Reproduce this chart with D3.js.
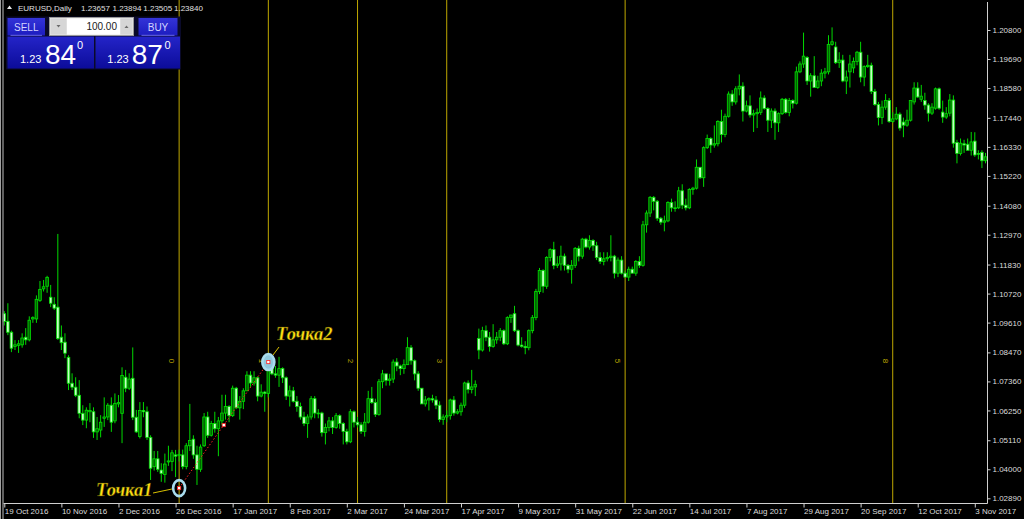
<!DOCTYPE html>
<html><head><meta charset="utf-8">
<script src="https://cdn.jsdelivr.net/npm/d3@7"></script>
<style>html,body{margin:0;padding:0;background:#000;overflow:hidden}svg{display:block}</style>
</head><body>
<svg id="c" width="1024" height="519"></svg>
<script>
// ---- data ----
const dateLabels = ["19 Oct 2016","10 Nov 2016","2 Dec 2016","26 Dec 2016","17 Jan 2017","8 Feb 2017","2 Mar 2017","24 Mar 2017","17 Apr 2017","9 May 2017","31 May 2017","22 Jun 2017","14 Jul 2017","7 Aug 2017","29 Aug 2017","20 Sep 2017","12 Oct 2017","3 Nov 2017"];
const dateLabelBars = [0,16,32,48,64,80,96,112,128,144,160,176,192,208,224,240,256,272];
const priceTicks = [1.20800,1.19690,1.18580,1.17440,1.16330,1.15220,1.14080,1.12970,1.11830,1.10720,1.09610,1.08470,1.07360,1.06250,1.05110,1.04000,1.02890];

const opens = [
1.0995,1.0966,1.0924,1.0870,1.0874,1.0876,1.0905,1.0895,1.0975,1.0975,
1.1046,1.1090,1.1100,1.1058,1.1031,1.1020,1.0905,1.0886,1.0828,1.0729,
1.0714,1.0683,1.0614,1.0588,1.0620,1.0620,1.0543,1.0550,1.0595,1.0600,
1.0645,1.0585,1.0650,1.0614,1.0752,1.0710,1.0748,1.0599,1.0525,1.0625,
1.0620,1.0522,1.0410,1.0440,1.0397,1.0380,1.0428,1.0430,1.0455,1.0455,
1.0455,1.0410,1.0490,1.0515,1.0455,1.0400,1.0490,1.0600,1.0530,1.0575,
1.0555,1.0585,1.0615,1.0640,1.0605,1.0710,1.0635,1.0660,1.0700,1.0760,
1.0730,1.0750,1.0680,1.0695,1.0690,1.0800,1.0765,1.0760,1.0785,1.0750,
1.0680,1.0700,1.0660,1.0640,1.0600,1.0575,1.0600,1.0670,1.0615,1.0615,
1.0540,1.0560,1.0585,1.0560,1.0605,1.0575,1.0545,1.0505,1.0620,1.0580,
1.0570,1.0545,1.0580,1.0670,1.0655,1.0610,1.0735,1.0765,1.0740,1.0745,
1.0810,1.0795,1.0785,1.0800,1.0865,1.0815,1.0765,1.0710,1.0650,1.0665,
1.0670,1.0665,1.0645,1.0590,1.0600,1.0605,1.0665,1.0615,1.0620,1.0645,
1.0730,1.0705,1.0715,1.0900,1.0856,1.0930,1.0905,1.0870,1.0895,1.0905,
1.0930,1.0880,1.0980,1.0995,1.0930,1.0875,1.0870,1.0865,1.0930,1.0980,
1.1080,1.1160,1.1100,1.1210,1.1240,1.1180,1.1185,1.1215,1.1180,1.1165,
1.1180,1.1245,1.1215,1.1280,1.1250,1.1275,1.1255,1.1210,1.1195,1.1205,
1.1210,1.1215,1.1150,1.1200,1.1150,1.1135,1.1165,1.1150,1.1195,1.1180,
1.1335,1.1380,1.1440,1.1425,1.1360,1.1345,1.1350,1.1420,1.1400,1.1400,
1.1465,1.1410,1.1400,1.1470,1.1475,1.1555,1.1515,1.1630,1.1665,1.1640,
1.1645,1.1730,1.1680,1.1750,1.1835,1.1805,1.1855,1.1865,1.1770,1.1790,
1.1755,1.1760,1.1765,1.1820,1.1780,1.1735,1.1770,1.1725,1.1760,1.1815,
1.1765,1.1810,1.1800,1.1920,1.1950,1.1975,1.1885,1.1905,1.1860,1.1885,
1.1915,1.1920,1.2025,1.2015,1.1955,1.1965,1.1885,1.1920,1.1935,1.1960,
1.1995,1.1900,1.1940,1.1945,1.1845,1.1795,1.1745,1.1785,1.1810,1.1730,
1.1740,1.1758,1.1728,1.1716,1.1735,1.1805,1.1858,1.1815,1.1810,1.1793,
1.1762,1.1781,1.1855,1.1766,1.1747,1.1762,1.1812,1.1650,1.1608,1.1645,
1.1643,1.1620,1.1655,1.1608,1.1612,1.1580];

const highs = [
1.1005,1.1035,1.0930,1.0894,1.0894,1.0920,1.0940,1.0985,1.0985,1.1065,
1.1120,1.1124,1.1140,1.1105,1.1058,1.1300,1.0950,1.0920,1.0836,1.0767,
1.0752,1.0741,1.0645,1.0637,1.0653,1.0637,1.0600,1.0607,1.0675,1.0653,
1.0675,1.0690,1.0684,1.0790,1.0780,1.0767,1.0866,1.0627,1.0657,1.0657,
1.0640,1.0530,1.0470,1.0470,1.0423,1.0460,1.0490,1.0474,1.0474,1.0475,
1.0475,1.0500,1.0650,1.0530,1.0490,1.0495,1.0615,1.0620,1.0585,1.0620,
1.0600,1.0685,1.0685,1.0645,1.0720,1.0715,1.0680,1.0710,1.0775,1.0775,
1.0775,1.0755,1.0725,1.0700,1.0810,1.0830,1.0795,1.0830,1.0790,1.0755,
1.0720,1.0715,1.0680,1.0655,1.0620,1.0610,1.0680,1.0680,1.0630,1.0620,
1.0575,1.0600,1.0600,1.0615,1.0610,1.0580,1.0555,1.0630,1.0625,1.0600,
1.0580,1.0615,1.0700,1.0715,1.0670,1.0745,1.0780,1.0765,1.0765,1.0820,
1.0825,1.0800,1.0820,1.0905,1.0875,1.0820,1.0775,1.0710,1.0680,1.0675,
1.0685,1.0680,1.0660,1.0610,1.0625,1.0670,1.0680,1.0630,1.0655,1.0735,
1.0740,1.0780,1.0740,1.0938,1.0945,1.0950,1.0925,1.0955,1.0925,1.0940,
1.0935,1.0985,1.0990,1.1025,1.0935,1.0905,1.0890,1.0935,1.0990,1.1090,
1.1170,1.1165,1.1215,1.1245,1.1270,1.1215,1.1255,1.1225,1.1185,1.1200,
1.1250,1.1255,1.1285,1.1285,1.1295,1.1280,1.1270,1.1230,1.1230,1.1230,
1.1295,1.1220,1.1210,1.1215,1.1160,1.1175,1.1175,1.1200,1.1215,1.1350,
1.1390,1.1445,1.1445,1.1430,1.1365,1.1370,1.1425,1.1435,1.1425,1.1480,
1.1490,1.1435,1.1475,1.1480,1.1585,1.1555,1.1635,1.1680,1.1670,1.1715,
1.1735,1.1775,1.1760,1.1845,1.1850,1.1865,1.1910,1.1880,1.1810,1.1830,
1.1775,1.1780,1.1845,1.1830,1.1785,1.1780,1.1780,1.1765,1.1820,1.1820,
1.1820,1.1815,1.1940,1.1960,1.2070,1.1980,1.1915,1.1980,1.1905,1.1930,
1.1935,1.2060,1.2090,1.2035,1.1995,1.1985,1.1925,1.1985,1.1975,1.2000,
1.2035,1.1945,1.1985,1.1955,1.1855,1.1805,1.1810,1.1835,1.1820,1.1765,
1.1785,1.1765,1.1745,1.1775,1.1810,1.1880,1.1880,1.1870,1.1840,1.1800,
1.1800,1.1860,1.1860,1.1810,1.1785,1.1835,1.1830,1.1660,1.1665,1.1660,
1.1665,1.1690,1.1689,1.1620,1.1620,1.1610];

const lows = [
1.0950,1.0913,1.0848,1.0856,1.0845,1.0865,1.0876,1.0889,1.0960,1.0960,
1.1040,1.1080,1.1075,1.1020,1.1009,1.0895,1.0856,1.0825,1.0703,1.0703,
1.0676,1.0595,1.0569,1.0557,1.0580,1.0520,1.0512,1.0522,1.0562,1.0588,
1.0543,1.0576,1.0637,1.0500,1.0695,1.0703,1.0588,1.0539,1.0518,1.0599,
1.0512,1.0359,1.0395,1.0390,1.0352,1.0349,1.0413,1.0393,1.0370,1.0430,
1.0400,1.0400,1.0470,1.0440,1.0340,1.0390,1.0485,1.0520,1.0525,1.0540,
1.0450,1.0570,1.0590,1.0580,1.0600,1.0630,1.0590,1.0630,1.0700,1.0715,
1.0720,1.0660,1.0675,1.0620,1.0675,1.0760,1.0750,1.0715,1.0730,1.0665,
1.0640,1.0655,1.0620,1.0590,1.0565,1.0520,1.0590,1.0595,1.0595,1.0525,
1.0495,1.0545,1.0535,1.0555,1.0555,1.0495,1.0495,1.0500,1.0560,1.0560,
1.0535,1.0525,1.0575,1.0650,1.0600,1.0605,1.0710,1.0720,1.0720,1.0730,
1.0775,1.0760,1.0765,1.0800,1.0800,1.0740,1.0700,1.0650,1.0640,1.0625,
1.0655,1.0630,1.0580,1.0570,1.0580,1.0590,1.0605,1.0610,1.0605,1.0635,
1.0690,1.0690,1.0680,1.0821,1.0850,1.0890,1.0850,1.0865,1.0880,1.0890,
1.0875,1.0875,1.0960,1.0925,1.0870,1.0865,1.0840,1.0855,1.0920,1.0970,
1.1070,1.1075,1.1090,1.1195,1.1165,1.1170,1.1160,1.1160,1.1150,1.1110,
1.1170,1.1195,1.1205,1.1245,1.1240,1.1235,1.1200,1.1185,1.1180,1.1195,
1.1195,1.1130,1.1135,1.1145,1.1135,1.1120,1.1150,1.1140,1.1170,1.1175,
1.1305,1.1365,1.1390,1.1350,1.1335,1.1310,1.1345,1.1385,1.1385,1.1395,
1.1395,1.1390,1.1395,1.1450,1.1470,1.1510,1.1480,1.1625,1.1610,1.1630,
1.1635,1.1650,1.1670,1.1745,1.1790,1.1795,1.1830,1.1730,1.1765,1.1745,
1.1690,1.1705,1.1755,1.1775,1.1690,1.1705,1.1660,1.1690,1.1755,1.1760,
1.1750,1.1780,1.1795,1.1915,1.1935,1.1870,1.1825,1.1860,1.1855,1.1865,
1.1895,1.1910,1.2020,1.1950,1.1935,1.1880,1.1835,1.1860,1.1915,1.1945,
1.1880,1.1865,1.1935,1.1835,1.1790,1.1715,1.1720,1.1775,1.1725,1.1725,
1.1735,1.1695,1.1670,1.1710,1.1730,1.1795,1.1820,1.1805,1.1775,1.1730,
1.1755,1.1775,1.1775,1.1725,1.1740,1.1750,1.1630,1.1570,1.1600,1.1610,
1.1620,1.1600,1.1595,1.1585,1.1552,1.1570];

const closes = [
1.0965,1.0924,1.0863,1.0876,1.0880,1.0902,1.0895,1.0970,1.0980,1.1050,
1.1088,1.1098,1.1134,1.1035,1.1016,1.0900,1.0884,1.0844,1.0729,1.0714,
1.0683,1.0614,1.0588,1.0626,1.0625,1.0543,1.0555,1.0580,1.0600,1.0645,
1.0580,1.0652,1.0655,1.0759,1.0710,1.0745,1.0599,1.0543,1.0625,1.0620,
1.0522,1.0404,1.0440,1.0400,1.0384,1.0420,1.0432,1.0463,1.0450,1.0456,
1.0410,1.0490,1.0510,1.0455,1.0400,1.0485,1.0600,1.0530,1.0575,1.0555,
1.0585,1.0615,1.0640,1.0605,1.0710,1.0635,1.0660,1.0700,1.0760,1.0730,
1.0750,1.0680,1.0695,1.0690,1.0800,1.0765,1.0760,1.0785,1.0750,1.0680,
1.0700,1.0660,1.0640,1.0600,1.0575,1.0600,1.0670,1.0615,1.0615,1.0540,
1.0560,1.0585,1.0560,1.0605,1.0575,1.0545,1.0505,1.0620,1.0580,1.0570,
1.0545,1.0580,1.0670,1.0655,1.0610,1.0735,1.0765,1.0740,1.0745,1.0810,
1.0795,1.0785,1.0800,1.0865,1.0815,1.0765,1.0710,1.0650,1.0665,1.0670,
1.0665,1.0645,1.0590,1.0600,1.0605,1.0665,1.0615,1.0620,1.0645,1.0730,
1.0705,1.0715,1.0725,1.0856,1.0930,1.0905,1.0870,1.0895,1.0905,1.0930,
1.0880,1.0980,1.0990,1.0930,1.0875,1.0870,1.0865,1.0930,1.0980,1.1080,
1.1160,1.1100,1.1210,1.1240,1.1180,1.1185,1.1215,1.1180,1.1165,1.1180,
1.1245,1.1215,1.1280,1.1250,1.1275,1.1255,1.1210,1.1195,1.1205,1.1210,
1.1215,1.1150,1.1200,1.1150,1.1135,1.1165,1.1150,1.1195,1.1180,1.1335,
1.1380,1.1440,1.1425,1.1360,1.1345,1.1350,1.1420,1.1400,1.1400,1.1465,
1.1410,1.1400,1.1470,1.1475,1.1555,1.1515,1.1630,1.1665,1.1640,1.1645,
1.1730,1.1680,1.1750,1.1835,1.1805,1.1855,1.1865,1.1770,1.1790,1.1755,
1.1760,1.1765,1.1820,1.1780,1.1735,1.1770,1.1725,1.1760,1.1815,1.1765,
1.1810,1.1800,1.1920,1.1950,1.1980,1.1885,1.1905,1.1860,1.1885,1.1915,
1.1920,1.2025,1.2035,1.1955,1.1965,1.1885,1.1900,1.1950,1.1960,1.1995,
1.1900,1.1940,1.1945,1.1845,1.1795,1.1745,1.1785,1.1810,1.1730,1.1740,
1.1758,1.1705,1.1716,1.1735,1.1810,1.1858,1.1824,1.1827,1.1793,1.1762,
1.1785,1.1855,1.1781,1.1747,1.1760,1.1812,1.1647,1.1608,1.1647,1.1640,
1.1620,1.1652,1.1602,1.1605,1.1580,1.1595];

// Fibonacci time zones (anchored on Точка1 -> Точка2)
const fibLabels = ["0","1","2","3","5","8"];
const fibBars = [49,74,99,124,174,249];
const anchorBars = [49,74];
const anchorPrices = [1.0328,1.0810];
const anchorNames = ["Точка1","Точка2"];
const headerQuote = ["1.23657","1.23894","1.23505","1.23840"];

// ---- drawing ----
const svg = d3.select('#c');
const FONT = "'Liberation Sans', Arial, sans-serif";
svg.append('rect').attr('width',1024).attr('height',519).attr('fill','#000');

const x = d3.scaleLinear().domain([0, 275]).range([4.3, 985.5]);
const y = d3.scaleLinear().domain([1.0289, 1.2080]).range([498.3, 30]);

const FIB = '#bfa800';
// fib vertical lines
svg.append('g').selectAll('line').data(fibBars).join('line')
  .attr('x1', d => x(d)).attr('x2', d => x(d)).attr('y1', 0).attr('y2', 503)
  .attr('stroke', FIB).attr('stroke-width', 1);

// candles
const idx = d3.range(opens.length);
const cg = svg.append('g');
cg.selectAll('line.w').data(idx).join('line').attr('class','w')
  .attr('x1', i => x(i)).attr('x2', i => x(i))
  .attr('y1', i => y(highs[i])).attr('y2', i => y(lows[i]))
  .attr('stroke', '#00d800').attr('stroke-width', 1);
cg.selectAll('rect.b').data(idx).join('rect').attr('class','b')
  .attr('x', i => x(i) - 1.3).attr('width', 2.6)
  .attr('y', i => y(Math.max(opens[i], closes[i])))
  .attr('height', i => Math.max(0.8, Math.abs(y(opens[i]) - y(closes[i]))))
  .attr('fill', i => closes[i] >= opens[i] ? '#006400' : '#c4ffc4')
  .attr('stroke', '#00e000').attr('stroke-width', 0.8);

// fib labels (rotated)
svg.append('g').selectAll('text').data(fibBars).join('text')
  .attr('transform', d => `translate(${x(d) - 7},361) rotate(90)`)
  .attr('text-anchor', 'middle').attr('dy', '0.35em')
  .attr('font-family', FONT).attr('font-size', 8).attr('fill', FIB)
  .text((d, i) => fibLabels[i]);

// red dotted base line between anchors
svg.append('line')
  .attr('x1', x(anchorBars[0])).attr('y1', y(anchorPrices[0]))
  .attr('x2', x(anchorBars[1])).attr('y2', y(anchorPrices[1]))
  .attr('stroke', '#ff2020').attr('stroke-width', 1).attr('stroke-dasharray', '1.5,2');

// ellipses
svg.append('g').selectAll('ellipse').data(anchorBars).join('ellipse')
  .attr('cx', d => x(d)).attr('cy', (d, i) => y(anchorPrices[i]))
  .attr('rx', 6).attr('ry', 8)
  .attr('fill', (d, i) => i === 1 ? '#8fc8dc' : 'none')
  .attr('stroke', '#a8dcee').attr('stroke-width', 2.6);

// selection handles
const hx = [x(anchorBars[0]), (x(anchorBars[0]) + x(anchorBars[1])) / 2, x(anchorBars[1])];
const hy = [y(anchorPrices[0]), (y(anchorPrices[0]) + y(anchorPrices[1])) / 2, y(anchorPrices[1])];
svg.append('g').selectAll('rect').data(hx).join('rect')
  .attr('x', (d) => d - 1.6).attr('y', (d, i) => hy[i] - 1.6).attr('width', 3.2).attr('height', 3.2)
  .attr('fill', '#fff').attr('stroke', '#ff2020').attr('stroke-width', 0.8);

// labels Точка1 / Точка2
const labelPos = [[96, 496], [276, 340]];
const linkPos = [[153, 493, 172, 489], [279, 347, 273, 355]];
linkPos.forEach(l => svg.append('line').attr('x1', l[0]).attr('y1', l[1]).attr('x2', l[2]).attr('y2', l[3])
  .attr('stroke', '#d8c000').attr('stroke-width', 1));
anchorNames.forEach((t, i) => svg.append('text').attr('x', labelPos[i][0]).attr('y', labelPos[i][1])
  .attr('font-family', "'Liberation Serif', 'DejaVu Serif', serif").attr('font-style', 'italic').attr('font-weight', 'bold')
  .attr('font-size', 18.5).attr('fill', '#ffe014').attr('stroke', '#3a3000').attr('stroke-width', 0.4)
  .text(t));

// frame
svg.append('line').attr('x1', 987.5).attr('x2', 987.5).attr('y1', 2).attr('y2', 503.5).attr('stroke', '#d0d0d0');
svg.append('line').attr('x1', 3).attr('x2', 987.5).attr('y1', 503.5).attr('y2', 503.5).attr('stroke', '#d0d0d0');
svg.append('line').attr('x1', 0.5).attr('x2', 0.5).attr('y1', 0).attr('y2', 519).attr('stroke', '#a0a0a0');
svg.append('line').attr('x1', 3).attr('x2', 3).attr('y1', 0).attr('y2', 519).attr('stroke', '#808080').attr('stroke-width', 1.5);

// price axis
const ya = svg.append('g').attr('transform', 'translate(987.5,0)')
  .call(d3.axisRight(y).tickValues(priceTicks).tickSize(3).tickFormat(d => d.toFixed(5)));
ya.select('.domain').remove();
ya.selectAll('line').attr('stroke', '#d0d0d0');
ya.selectAll('text').attr('fill', '#dcdcdc').attr('font-family', FONT).attr('font-size', 8).attr('x', 5);

// time axis
const xa = svg.append('g').attr('transform', 'translate(0,503.5)')
  .call(d3.axisBottom(x).tickValues(dateLabelBars).tickSize(4).tickFormat((d, i) => dateLabels[i]));
xa.select('.domain').remove();
xa.selectAll('line').attr('stroke', '#d0d0d0');
xa.selectAll('text').attr('fill', '#dcdcdc').attr('font-family', FONT).attr('font-size', 8)
  .attr('text-anchor', 'start').attr('x', 0).attr('y', 5);

// header
svg.append('path').attr('d', 'M7,9 L9.5,5.5 L12,9 Z').attr('fill', '#e8e8e8');
svg.append('text').attr('x', 18).attr('y', 10.5).attr('font-family', FONT).attr('font-size', 8)
  .attr('fill', '#e0e0e0').text('EURUSD,Daily');
const hxPos = [81, 112.5, 143.3, 174];
headerQuote.forEach((q, i) => svg.append('text').attr('x', hxPos[i]).attr('y', 10.5)
  .attr('font-family', FONT).attr('font-size', 8).attr('fill', '#e0e0e0').text(q));

// one-click trading panel
const defs = svg.append('defs');
const g1 = defs.append('linearGradient').attr('id', 'pbox').attr('x1', 0).attr('y1', 0).attr('x2', 0).attr('y2', 1);
g1.append('stop').attr('offset', 0).attr('stop-color', '#2424c8');
g1.append('stop').attr('offset', 1).attr('stop-color', '#0c0c9a');
const g2 = defs.append('linearGradient').attr('id', 'btn').attr('x1', 0).attr('y1', 0).attr('x2', 0).attr('y2', 1);
g2.append('stop').attr('offset', 0).attr('stop-color', '#3434d8');
g2.append('stop').attr('offset', 1).attr('stop-color', '#1c1cc0');

const panel = svg.append('g');
panel.append('rect').attr('x', 6).attr('y', 16.5).attr('width', 175).attr('height', 53).attr('fill', '#0a0a2a');
// SELL / BUY buttons
[[7.5, 37.5, 'SELL'], [138.5, 39, 'BUY']].forEach(b => {
  panel.append('rect').attr('x', b[0]).attr('y', 18).attr('width', b[1]).attr('height', 17.5).attr('fill', 'url(#btn)');
  panel.append('line').attr('x1', b[0] + 3).attr('x2', b[0] + b[1] - 3).attr('y1', 35.3).attr('y2', 35.3).attr('stroke', '#6a6ae8');
  panel.append('text').attr('x', b[0] + b[1] / 2).attr('y', 30.5).attr('text-anchor', 'middle')
    .attr('font-family', FONT).attr('font-size', 10).attr('fill', '#d4d4ff').text(b[2]);
});
// lot spinner
panel.append('rect').attr('x', 49.5).attr('y', 17.5).attr('width', 84).attr('height', 18).attr('fill', '#e8e8e8').attr('stroke', '#9a9a9a');
panel.append('rect').attr('x', 50.5).attr('y', 18.5).attr('width', 16).attr('height', 16).attr('fill', '#d6d6d6');
panel.append('rect').attr('x', 67).attr('y', 18.5).attr('width', 53).attr('height', 16).attr('fill', '#ffffff');
panel.append('rect').attr('x', 120.5).attr('y', 18.5).attr('width', 12).attr('height', 16).attr('fill', '#d6d6d6');
panel.append('path').attr('d', 'M56.5,25 L60.5,25 L58.5,27.5 Z').attr('fill', '#6a6a6a');
panel.append('path').attr('d', 'M124.5,28 L128.5,28 L126.5,25.5 Z').attr('fill', '#6a6a6a');
panel.append('text').attr('x', 117).attr('y', 30).attr('text-anchor', 'end').attr('font-family', FONT)
  .attr('font-size', 10).attr('fill', '#202020').text('100.00');
// price boxes
[[7.5, 86.5, '84', 20, 45, 77], [95.5, 84.5, '87', 107.3, 131.7, 164.5]].forEach(b => {
  panel.append('rect').attr('x', b[0]).attr('y', 36.5).attr('width', b[1]).attr('height', 32).attr('fill', 'url(#pbox)');
  panel.append('text').attr('x', b[3]).attr('y', 62.5).attr('font-family', FONT).attr('font-size', 11)
    .attr('fill', '#ffffff').text('1.23');
  panel.append('text').attr('x', b[4]).attr('y', 63.5).attr('font-family', FONT).attr('font-size', 28)
    .attr('fill', '#ffffff').text(b[2]);
  panel.append('text').attr('x', b[5]).attr('y', 48.5).attr('font-family', FONT).attr('font-size', 11)
    .attr('fill', '#ffffff').text('0');
});
</script>
</body></html>
